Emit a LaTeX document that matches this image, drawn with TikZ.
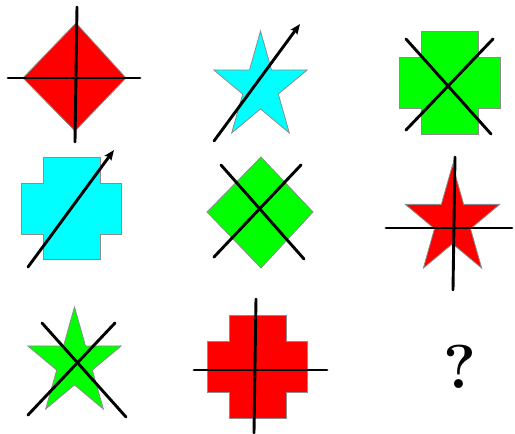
\documentclass[tikz,border=0pt]{standalone}
\usepackage{xcolor}
\usepackage{tikz}
\usetikzlibrary{arrows.meta}
\definecolor{puzRed}{RGB}{255,0,0}
\definecolor{puzCyan}{RGB}{0,255,255}
\definecolor{puzGreen}{RGB}{0,255,0}
\begin{document}
\begin{tikzpicture}[x=1pt,y=-1pt,
  shp/.style={draw=black!45,line width=0.8pt,line join=miter},
  bar/.style={line width=2.9pt,line cap=round},
  arr/.style={bar,-{Stealth[length=10pt,width=8pt,inset=1.5pt]}}]
\useasboundingbox (0,0) rectangle (515,434);
% row 1
\draw[shp,fill=puzRed] (76,23) -- (126,78) -- (75,131) -- (23,78) -- cycle;
\draw[bar] (77,7) -- (75,142);
\draw[bar] (8,78) -- (140,78);
\draw[shp,fill=puzCyan,shift={(260.5,87.4)},xscale=0.87] (-90:56.4)
  \foreach \k in {0,...,4}{ -- ({-54+72*\k}:21.5) -- ({-18+72*\k}:56.4)} -- cycle;
\draw[arr] (214,141) -- (300,24);
\draw[shp,fill=puzGreen] (421,31) -- (478,31) -- (478,57) -- (500,57) -- (500,108) -- (478,108)
  -- (478,134) -- (421,134) -- (421,108) -- (399,108) -- (399,57) -- (421,57) -- cycle;
\draw[bar] (406,39) -- (491,134);
\draw[bar] (493,39) -- (406,130);
% row 2
\draw[shp,fill=puzCyan] (43,157) -- (100,157) -- (100,183) -- (121,183) -- (121,234) -- (100,234)
  -- (100,259) -- (43,259) -- (43,234) -- (21,234) -- (21,183) -- (43,183) -- cycle;
\draw[arr] (28,267) -- (114,150);
\draw[shp,fill=puzGreen] (261,157) -- (313,212) -- (261,268) -- (207,212) -- cycle;
\draw[bar] (221,165) -- (304,259);
\draw[bar] (301,165) -- (214,257);
\draw[shp,fill=puzRed,shift={(452.5,222)},xscale=0.87] (-90:57)
  \foreach \k in {0,...,4}{ -- ({-54+72*\k}:21.8) -- ({-18+72*\k}:57)} -- cycle;
\draw[bar] (455,157) -- (453,290);
\draw[bar] (386,228) -- (512,228);
% row 3
\draw[shp,fill=puzGreen,shift={(74.5,363.4)},xscale=0.87] (-90:56.4)
  \foreach \k in {0,...,4}{ -- ({-54+72*\k}:21.5) -- ({-18+72*\k}:56.4)} -- cycle;
\draw[bar] (42,323) -- (126,417);
\draw[bar] (115,323) -- (28,415);
\draw[shp,fill=puzRed] (229,315) -- (286,315) -- (286,341) -- (307,341) -- (307,392) -- (286,392)
  -- (286,418) -- (229,418) -- (229,392) -- (207,392) -- (207,341) -- (229,341) -- cycle;
\draw[bar] (256,299) -- (254,433);
\draw[bar] (194,370) -- (327,370);
\node[font=\fontsize{62}{62}\selectfont\bfseries,inner sep=0pt] (q) at (460,367) {?};
\end{tikzpicture}
\end{document}
